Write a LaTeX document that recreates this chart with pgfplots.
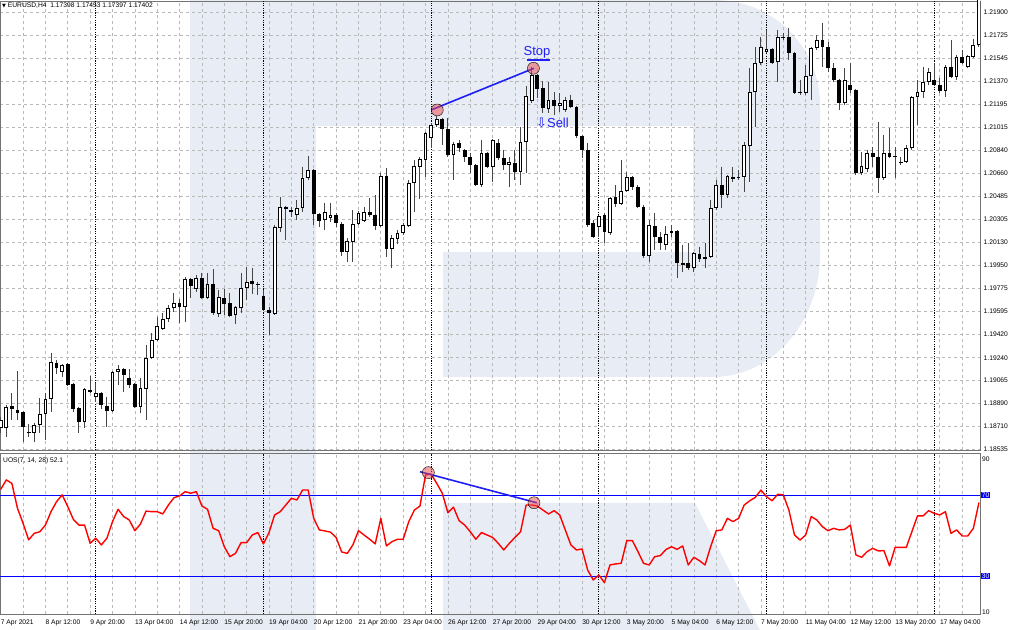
\documentclass[border=0pt]{standalone}
\usepackage{pgfplots}
\pgfplotsset{compat=1.18}
\usepackage{pgfplotstable}
\usepackage{fontspec}
\setmainfont{Liberation Sans}
\newfontfamily\symfont{DejaVu Sans}
\definecolor{wm}{RGB}{231,236,245}
\definecolor{gridc}{RGB}{185,185,185}
\definecolor{wickc}{RGB}{70,70,70}
\definecolor{annblue}{RGB}{30,30,245}
\definecolor{circ}{RGB}{235,70,70}

\pgfplotstableread{
i O H L C
0 1.18699 1.18784 1.18661 1.18761
1 1.18699 1.18877 1.18630 1.18861
2 1.18869 1.18969 1.18761 1.18846
3 1.18838 1.19138 1.18761 1.18815
4 1.18823 1.18830 1.18592 1.18707
5 1.18669 1.18730 1.18630 1.18661
6 1.18661 1.18738 1.18592 1.18723
7 1.18723 1.18930 1.18661 1.18807
8 1.18807 1.18969 1.18607 1.18923
9 1.18923 1.19277 1.18823 1.19208
10 1.19200 1.19223 1.19115 1.19161
11 1.19131 1.19192 1.19092 1.19185
12 1.19192 1.19200 1.19023 1.19031
13 1.19038 1.19046 1.18823 1.18846
14 1.18853 1.18861 1.18661 1.18746
15 1.18746 1.19008 1.18699 1.19000
16 1.18992 1.19100 1.18969 1.18977
17 1.18938 1.19046 1.18900 1.18969
18 1.18969 1.18977 1.18846 1.18877
19 1.18869 1.18938 1.18707 1.18830
20 1.18830 1.19138 1.18823 1.19131
21 1.19131 1.19185 1.19031 1.19154
22 1.19154 1.19161 1.18977 1.19108
23 1.19084 1.19154 1.19008 1.19031
24 1.19038 1.19046 1.18853 1.18861
25 1.18861 1.19084 1.18815 1.19008
26 1.19000 1.19339 1.18761 1.19238
27 1.19238 1.19431 1.19231 1.19377
28 1.19377 1.19554 1.19369 1.19485
29 1.19462 1.19585 1.19454 1.19539
30 1.19539 1.19647 1.19516 1.19623
31 1.19623 1.19739 1.19593 1.19662
32 1.19662 1.19693 1.19508 1.19631
33 1.19631 1.19862 1.19516 1.19847
34 1.19847 1.19854 1.19700 1.19793
35 1.19770 1.19878 1.19747 1.19854
36 1.19854 1.19893 1.19693 1.19700
37 1.19700 1.19893 1.19693 1.19808
38 1.19808 1.19924 1.19570 1.19585
39 1.19577 1.19762 1.19554 1.19708
40 1.19700 1.19770 1.19570 1.19654
41 1.19662 1.19739 1.19554 1.19562
42 1.19570 1.19639 1.19500 1.19631
43 1.19623 1.19893 1.19585 1.19777
44 1.19777 1.19939 1.19685 1.19824
45 1.19831 1.19931 1.19731 1.19808
46 1.19808 1.19824 1.19724 1.19801
47 1.19716 1.19762 1.19600 1.19608
48 1.19608 1.19631 1.19416 1.19585
49 1.19577 1.20263 1.19570 1.20247
50 1.20239 1.20478 1.20209 1.20401
51 1.20401 1.20409 1.20147 1.20386
52 1.20378 1.20401 1.20324 1.20363
53 1.20340 1.20455 1.20301 1.20393
54 1.20393 1.20709 1.20363 1.20624
55 1.20624 1.20794 1.20609 1.20686
56 1.20686 1.20694 1.20263 1.20347
57 1.20347 1.20355 1.20247 1.20293
58 1.20301 1.20432 1.20224 1.20363
59 1.20316 1.20432 1.20286 1.20340
60 1.20340 1.20355 1.20247 1.20278
61 1.20270 1.20286 1.20024 1.20055
62 1.20055 1.20162 1.19978 1.20139
63 1.20132 1.20378 1.19978 1.20270
64 1.20270 1.20370 1.20263 1.20355
65 1.20293 1.20401 1.20286 1.20363
66 1.20363 1.20470 1.20324 1.20340
67 1.20340 1.20494 1.20224 1.20255
68 1.20255 1.20663 1.20247 1.20640
69 1.20640 1.20701 1.20016 1.20078
70 1.20078 1.20186 1.19931 1.20162
71 1.20155 1.20224 1.20116 1.20201
72 1.20201 1.20278 1.20186 1.20263
73 1.20255 1.20609 1.20247 1.20586
74 1.20586 1.20763 1.20363 1.20717
75 1.20709 1.20786 1.20463 1.20771
76 1.20763 1.20979 1.20632 1.20971
77 1.20932 1.21048 1.20855 1.21033
78 1.21033 1.21102 1.21017 1.21079
79 1.21079 1.21086 1.20879 1.21002
80 1.21002 1.21086 1.20786 1.20802
81 1.20802 1.20902 1.20609 1.20886
82 1.20894 1.20917 1.20825 1.20855
83 1.20840 1.20848 1.20748 1.20786
84 1.20786 1.20817 1.20663 1.20725
85 1.20725 1.20732 1.20563 1.20571
86 1.20571 1.20917 1.20555 1.20817
87 1.20817 1.20825 1.20701 1.20709
88 1.20709 1.20925 1.20594 1.20917
89 1.20894 1.20925 1.20763 1.20778
90 1.20778 1.20840 1.20686 1.20725
91 1.20725 1.20786 1.20555 1.20748
92 1.20740 1.20840 1.20609 1.20671
93 1.20671 1.21017 1.20571 1.20902
94 1.20902 1.21333 1.20663 1.21256
95 1.21217 1.21479 1.21202 1.21418
96 1.21418 1.21425 1.21240 1.21310
97 1.21317 1.21371 1.21125 1.21163
98 1.21156 1.21364 1.21125 1.21225
99 1.21225 1.21287 1.21110 1.21179
100 1.21179 1.21279 1.21133 1.21202
101 1.21148 1.21248 1.21133 1.21225
102 1.21225 1.21264 1.21163 1.21171
103 1.21171 1.21179 1.20932 1.20948
104 1.20948 1.20956 1.20778 1.20840
105 1.20840 1.20894 1.20247 1.20263
106 1.20278 1.20301 1.20162 1.20170
107 1.20247 1.20340 1.20170 1.20332
108 1.20340 1.20355 1.20124 1.20209
109 1.20201 1.20478 1.20186 1.20470
110 1.20478 1.20571 1.20401 1.20424
111 1.20424 1.20763 1.20417 1.20524
112 1.20524 1.20671 1.20517 1.20632
113 1.20632 1.20640 1.20532 1.20555
114 1.20555 1.20571 1.20393 1.20401
115 1.20401 1.20417 1.20008 1.20024
116 1.20024 1.20301 1.19978 1.20263
117 1.20255 1.20355 1.20070 1.20170
118 1.20170 1.20209 1.20070 1.20124
119 1.20109 1.20255 1.20070 1.20193
120 1.20201 1.20263 1.20170 1.20216
121 1.20216 1.20224 1.19854 1.19970
122 1.19955 1.20109 1.19901 1.19970
123 1.19970 1.20124 1.19916 1.19931
124 1.19931 1.20055 1.19901 1.20047
125 1.20039 1.20093 1.19978 1.20001
126 1.20001 1.20124 1.19931 1.20016
127 1.20016 1.20455 1.20008 1.20393
128 1.20393 1.20609 1.20378 1.20571
129 1.20571 1.20709 1.20393 1.20494
130 1.20494 1.20648 1.20470 1.20640
131 1.20617 1.20709 1.20594 1.20632
132 1.20624 1.20686 1.20609 1.20632
133 1.20632 1.20902 1.20517 1.20879
134 1.20871 1.21471 1.20594 1.21287
135 1.21287 1.21633 1.21017 1.21510
136 1.21510 1.21710 1.21495 1.21633
137 1.21595 1.21764 1.21587 1.21618
138 1.21618 1.21625 1.21502 1.21510
139 1.21518 1.21764 1.21364 1.21710
140 1.21702 1.21741 1.21687 1.21710
141 1.21710 1.21779 1.21533 1.21587
142 1.21587 1.21595 1.21271 1.21279
143 1.21279 1.21379 1.21264 1.21287
144 1.21279 1.21495 1.21264 1.21410
145 1.21410 1.21633 1.21225 1.21625
146 1.21625 1.21725 1.21610 1.21687
147 1.21687 1.21818 1.21479 1.21633
148 1.21633 1.21672 1.21441 1.21471
149 1.21471 1.21510 1.21364 1.21379
150 1.21379 1.21387 1.21148 1.21202
151 1.21202 1.21471 1.21187 1.21379
152 1.21341 1.21510 1.21279 1.21302
153 1.21302 1.21310 1.20648 1.20663
154 1.20663 1.20825 1.20648 1.20717
155 1.20694 1.20840 1.20671 1.20817
156 1.20817 1.20863 1.20709 1.20786
157 1.20786 1.21056 1.20509 1.20624
158 1.20624 1.20956 1.20609 1.20817
159 1.20817 1.21009 1.20778 1.20786
160 1.20794 1.20863 1.20624 1.20786
161 1.20740 1.20786 1.20725 1.20748
162 1.20748 1.20879 1.20740 1.20855
163 1.20855 1.21256 1.20840 1.21248
164 1.21248 1.21379 1.21033 1.21287
165 1.21287 1.21479 1.21240 1.21364
166 1.21364 1.21471 1.21341 1.21441
167 1.21379 1.21510 1.21333 1.21341
168 1.21341 1.21394 1.21279 1.21294
169 1.21294 1.21495 1.21248 1.21479
170 1.21479 1.21687 1.21394 1.21402
171 1.21402 1.21572 1.21379 1.21556
172 1.21556 1.21610 1.21502 1.21510
173 1.21479 1.21572 1.21471 1.21564
174 1.21556 1.21695 1.21548 1.21649
175 1.21649 1.22149 1.21633 1.22072
}\candles

\pgfplotstableread{
i v
0 72.9
1 77.6
2 75.9
3 63.6
4 56.2
5 48.0
6 51.2
7 52.0
8 55.3
9 61.9
10 66.9
11 70.2
12 64.4
13 58.1
14 55.3
15 55.3
16 46.3
17 48.8
18 45.5
19 48.8
20 57.0
21 63.1
22 59.5
23 57.8
24 52.5
25 55.8
26 62.2
27 61.9
28 61.9
29 60.8
30 65.2
31 68.8
32 69.7
33 71.8
34 71.0
35 71.8
36 64.7
37 63.1
38 53.7
39 52.5
40 44.6
41 39.7
42 41.3
43 46.6
44 46.6
45 50.4
46 51.6
47 46.0
48 51.6
49 60.3
50 61.9
51 65.2
52 68.5
53 67.7
54 72.6
55 72.6
56 58.6
57 52.9
58 52.4
59 51.8
60 49.2
61 42.0
62 41.3
63 45.5
64 52.5
65 50.4
66 48.3
67 46.0
68 58.6
69 45.0
70 47.1
71 48.3
72 48.3
73 57.0
74 62.7
75 64.7
76 80.0
77 80.5
78 75.9
79 71.0
80 61.4
81 64.1
82 57.5
83 55.3
84 52.0
85 48.3
86 51.6
87 50.4
88 49.2
89 46.3
90 43.0
91 46.3
92 49.2
93 52.0
94 65.2
95 65.2
96 64.7
97 62.7
98 60.8
99 62.4
100 60.3
101 52.9
102 45.5
103 43.0
104 43.5
105 33.1
106 28.2
107 30.6
108 26.9
109 35.6
110 36.1
111 36.4
112 47.6
113 47.6
114 42.2
115 36.4
116 35.6
117 39.7
118 40.2
119 43.2
120 44.6
121 43.3
122 45.0
123 35.6
124 39.4
125 37.7
126 35.6
127 44.6
128 52.5
129 52.9
130 58.6
131 57.0
132 58.6
133 65.2
134 67.3
135 69.0
136 72.6
137 69.3
138 67.3
139 70.5
140 70.2
141 62.7
142 50.4
143 47.9
144 50.4
145 59.5
146 57.8
147 54.5
148 52.5
149 53.7
150 52.9
151 53.2
152 55.3
153 40.5
154 39.4
155 42.2
156 43.8
157 42.5
158 42.7
159 35.1
160 44.3
161 44.3
162 44.3
163 52.0
164 59.8
165 59.8
166 62.4
167 61.1
168 60.3
169 61.9
170 51.2
171 52.9
172 49.9
173 49.9
174 53.7
175 66.4
}\uos

\newcommand{\smallfont}{\fontsize{6.7bp}{8bp}\selectfont}
\pgfplotsset{
  candlebar/.style={draw=none, mark=none, forget plot,
    error bars/.cd, y dir=minus, y explicit,
    error mark options={draw=none, fill=none, mark size=0pt}},
}

\begin{document}
\begin{tikzpicture}
% watermark logo
\fill[wm] (190bp,0bp) rectangle (316bp,630bp);
\fill[wm] (316bp,630bp) -- (715bp,630bp)
  arc[start angle=90, end angle=0, x radius=105bp, y radius=105bp]
  -- (820bp,375bp)
  arc[start angle=0, end angle=-90, x radius=107bp, y radius=122bp]
  -- (443bp,253bp) -- (443bp,378bp) -- (693bp,378bp) -- (693bp,504bp) -- (316bp,504bp) -- cycle;
\fill[wm] (443bp,127bp) -- (695bp,127bp) -- (760bp,0bp) -- (443bp,0bp) -- cycle;

\begin{axis}[
  at={(0bp,179.5bp)}, anchor=south west,
  scale only axis, width=980bp, height=449.5bp,
  xmin=-0.125, xmax=175.19, ymin=1.18526, ymax=1.21987,
  xtick={0,4,...,172}, xticklabels={},
  ytick={1.18535,1.18710,1.18890,1.19065,1.19240,1.19420,1.19595,1.19775,1.19950,1.20130,1.20305,1.20485,1.20660,1.20840,1.21015,1.21195,1.21370,1.21545,1.21725,1.21900},
  yticklabels={1.18535,1.18710,1.18890,1.19065,1.19240,1.19420,1.19595,1.19775,1.19950,1.20130,1.20305,1.20485,1.20660,1.20840,1.21015,1.21195,1.21370,1.21545,1.21725,1.21900},
  scaled y ticks=false,
  yticklabel pos=right,
  tick style={draw=none},
  yticklabel style={anchor=west, inner sep=0pt, xshift=3.5bp, font=\smallfont},
  grid=major,
  major grid style={gridc, dash pattern=on 3bp off 3bp, line width=0.7bp},
  axis line style={black!55, line width=0.7bp},
  extra x ticks={17,47,77,107,137,167}, extra x tick labels={},
  extra x tick style={grid=major, major grid style={black, dash pattern=on 1.2bp off 1.2bp, line width=0.7bp}},
]
% wicks
\addplot[candlebar, error bar style={draw=wickc, line width=1bp, line cap=butt}]
  table[x=i, y=H, y error minus expr={\thisrow{H}-\thisrow{L}}] {\candles};
% bodies (black outline / bear fill)
\addplot[candlebar, error bar style={draw=black, line width=3.8bp, line cap=butt}]
  table[x=i, y expr={max(\thisrow{O},\thisrow{C})}, y error minus expr={max(abs(\thisrow{O}-\thisrow{C}),0.00008)}] {\candles};
% bull interior
\addplot[candlebar, error bar style={draw=white, line width=1.8bp, line cap=butt}]
  table[x=i, y expr={\thisrow{C}-0.000077}, y error minus expr={(\thisrow{C}>\thisrow{O})*max(\thisrow{C}-\thisrow{O}-0.000154,0)}] {\candles};
% annotation
\addplot[annblue, line width=1.6bp, mark=none, forget plot] coordinates {(77.0,1.21148) (95.4,1.21469)};
\addplot[only marks, mark=*, mark size=6bp, mark options={fill=circ, draw=none, fill opacity=0.5}, forget plot] coordinates {(78.1,1.21148) (95.3,1.21469)};
\end{axis}

\begin{axis}[
  at={(0bp,16bp)}, anchor=south west,
  scale only axis, width=980bp, height=160.5bp,
  xmin=-0.125, xmax=175.19, ymin=11.38, ymax=90.64,
  xtick={0,8,...,168},
  xticklabels={7 Apr 2021,8 Apr 12:00,9 Apr 20:00,13 Apr 04:00,14 Apr 12:00,15 Apr 20:00,19 Apr 04:00,20 Apr 12:00,21 Apr 20:00,23 Apr 04:00,26 Apr 12:00,27 Apr 20:00,29 Apr 04:00,30 Apr 12:00,3 May 20:00,5 May 04:00,6 May 12:00,7 May 20:00,11 May 04:00,12 May 12:00,13 May 20:00,17 May 04:00},
  minor xtick={4,12,...,172},
  ytick=\empty,
  tick style={draw=none},
  xticklabel style={anchor=north west, inner sep=0pt, yshift=-6bp, font=\smallfont},
  xmajorgrids=true, xminorgrids=true,
  major grid style={gridc, dash pattern=on 3bp off 3bp, line width=0.7bp},
  minor grid style={gridc, dash pattern=on 3bp off 3bp, line width=0.7bp},
  axis line style={black!55, line width=0.7bp},
  extra x ticks={17,47,77,107,137,167}, extra x tick labels={},
  extra x tick style={grid=major, major grid style={black, dash pattern=on 1.2bp off 1.2bp, line width=0.7bp}},
]
\addplot[blue, line width=0.8bp, mark=none, forget plot] coordinates {(-0.125,70) (175.19,70)};
\addplot[blue, line width=0.8bp, mark=none, forget plot] coordinates {(-0.125,30) (175.19,30)};
\addplot[red, line width=1.4bp, mark=none, line join=round] table[x=i, y=v] {\uos};
\addplot[annblue, line width=1.6bp, mark=none, forget plot] coordinates {(75.0,81.65) (95.9,66.3)};
\addplot[only marks, mark=*, mark size=6bp, mark options={fill=circ, draw=none, fill opacity=0.5}, forget plot] coordinates {(76.5,81.2) (95.4,66.3)};
\end{axis}

% texts
\node[anchor=west, inner sep=0pt, font=\smallfont] at (2bp,624bp) {{\symfont\fontsize{5bp}{6bp}\selectfont ▼}\ EURUSD,H4\ \ 1.17398 1.17453 1.17397 1.17402};
\node[anchor=west, inner sep=0pt, font=\smallfont] at (3bp,169bp) {UOS(7, 14, 28) 52.1};
\node[anchor=center, inner sep=0pt, text=annblue, font=\fontsize{13bp}{15bp}\selectfont] at (537bp,577.5bp) {Stop};
\draw[annblue, line width=1.2bp] (526.5bp,570bp) -- (549.5bp,570bp);
\node[anchor=west, inner sep=0pt, text=annblue, font=\fontsize{13bp}{15bp}\selectfont] at (536bp,507.5bp) {{\symfont ⇩}Sell};
\node[anchor=west, inner sep=0pt, font=\smallfont] at (982bp,170.7bp) {90};
\node[anchor=west, inner sep=0pt, font=\smallfont] at (982bp,17.7bp) {10};
\node[anchor=west, inner sep=0.6bp, fill=blue, text=white, font=\smallfont] at (981bp,134.7bp) {70};
\node[anchor=west, inner sep=0.6bp, fill=blue, text=white, font=\smallfont] at (981bp,53.7bp) {30};
\pgfresetboundingbox
\path[use as bounding box] (0bp,0bp) rectangle (1012bp,630bp);
\end{tikzpicture}
\end{document}
